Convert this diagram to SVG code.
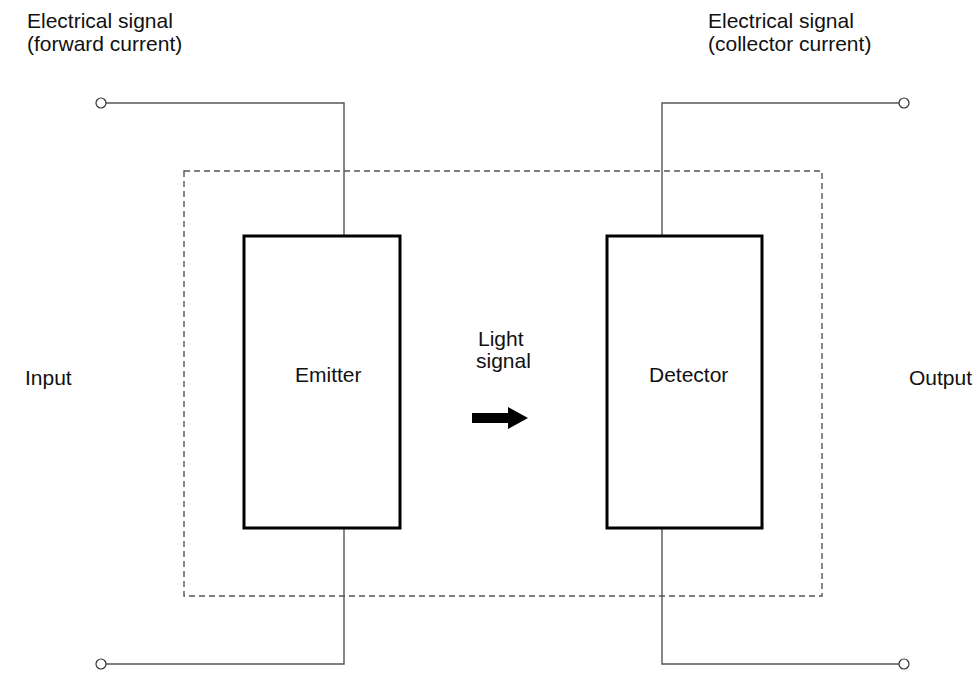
<svg xmlns="http://www.w3.org/2000/svg" width="979" height="673" viewBox="0 0 979 673">
<style>
text{font-family:"Liberation Sans",Arial,sans-serif;font-size:21px;fill:#111}
.wire{fill:none;stroke:#555;stroke-width:1.4}
.box{fill:#fff;stroke:#000;stroke-width:3}
.term{fill:#fff;stroke:#333;stroke-width:1.2}
.frame{fill:none;stroke:#555;stroke-width:1.4;stroke-dasharray:6 4}
</style>
<rect width="979" height="673" fill="#fff"/>
<rect id="package" class="frame" x="184" y="171" width="638" height="425"/>
<g id="connectors">
<polyline class="wire" points="106,103 344,103 344,236"/>
<polyline class="wire" points="344,528 344,664 106,664"/>
<polyline class="wire" points="899,103 662,103 662,236"/>
<polyline class="wire" points="662,528 662,664 899,664"/>
<polygon points="472,413 508,413 508,407 528,418 508,429 508,423 472,423" fill="#000"/>
</g>
<g id="emitter">
<rect class="box" x="244" y="236" width="156" height="292"/>
<text x="295" y="382">Emitter</text>
</g>
<g id="detector">
<rect class="box" x="607" y="236" width="155" height="292"/>
<text x="649" y="382">Detector</text>
</g>
<g id="terminals">
<circle class="term" cx="101" cy="103" r="5"/>
<circle class="term" cx="101" cy="664" r="5"/>
<circle class="term" cx="904" cy="103" r="5"/>
<circle class="term" cx="904" cy="664" r="5"/>
</g>
<g id="labels">
<text x="27" y="28">Electrical signal</text>
<text x="27" y="51">(forward current)</text>
<text x="708" y="28">Electrical signal</text>
<text x="708" y="51">(collector current)</text>
<text x="25" y="385">Input</text>
<text x="909" y="385">Output</text>
<text x="478" y="346">Light</text>
<text x="476" y="368">signal</text>
</g>
</svg>
